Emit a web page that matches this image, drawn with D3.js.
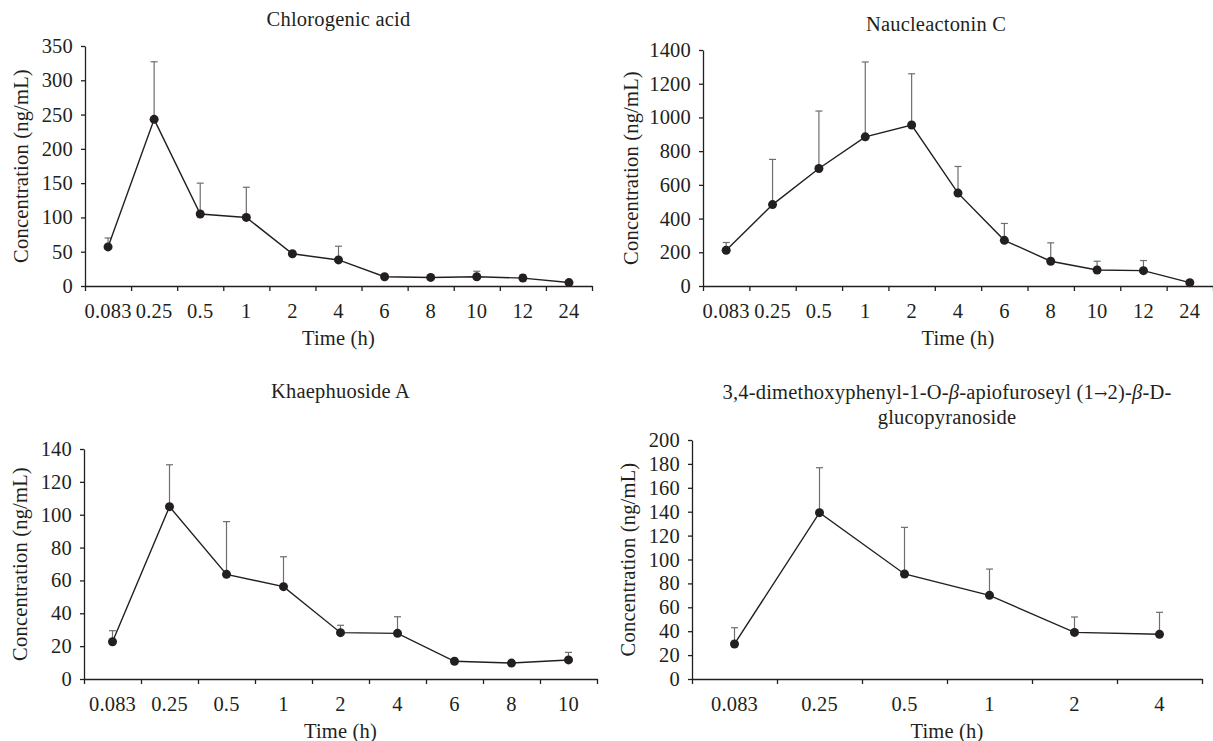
<!DOCTYPE html>
<meta charset="utf-8">
<head>
  <meta charset="utf-8">
  <title>Plasma concentration-time profiles</title>
</head>
<style>
body { margin: 0; background: #fff; }
svg text { font-family: 'Liberation Serif', 'Times New Roman', serif; fill: #231f20; letter-spacing: 0.2px; }
.axis path, .axis line { stroke: #231f20; stroke-width: 1.3; }
.axis text { font-size: 20.5px; }
.title { font-size: 20.5px; }
.label { font-size: 20.5px; }
.arrow { font-family: 'DejaVu Serif', serif; font-size: 16px; }
</style>
<body>
<div class='chart'></div>

<script src="https://d3js.org/d3.v7.min.js"></script>
<script>

// Time points (h)
var times11 = ["0.083", "0.25", "0.5", "1", "2", "4", "6", "8", "10", "12", "24"]
var times9 = ["0.083", "0.25", "0.5", "1", "2", "4", "6", "8", "10"]
var times6 = ["0.083", "0.25", "0.5", "1", "2", "4"]

// Mean and SD concentrations (ng/mL)
var chlorogenicMean = [57, 243, 105, 100, 47, 38, 13.5, 12.5, 13.5, 11.5, 5]
var chlorogenicSD = [13, 84, 45, 44, 3, 20, 2, 2, 8, 5, 1]

var naucleactoninMean = [212, 483, 697, 885, 955, 551, 271, 147, 95, 91, 20]
var naucleactoninSD = [46, 268, 341, 444, 304, 158, 100, 109, 52, 60, 5]

var khaephuosideMean = [22.7, 104.9, 63.7, 56.2, 28.2, 27.8, 10.8, 9.7, 11.6]
var khaephuosideSD = [6.7, 25.5, 32.1, 18.2, 4.5, 10.1, 1, 1, 4.6]

var dmpMean = [29.3, 139.2, 87.9, 70, 39, 37.4]
var dmpSD = [13.6, 37.6, 39, 22, 12.9, 18.4]

var width = 1213
var height = 741

var svg = d3.select('.chart')
    .append('svg')
    .attr('width', width)
    .attr('height', height)

// one panel per compound; box = plot area in page pixels
var panels = [
  {title: ['Chlorogenic acid'], titleY: 26, times: times11, mean: chlorogenicMean, sd: chlorogenicSD,
   yMax: 350, yStep: 50, labelGap: 57, box: {left: 85, right: 592, top: 46, bottom: 286}},
  {title: ['Naucleactonin C'], titleY: 31, titleX: 936, times: times11, mean: naucleactoninMean, sd: naucleactoninSD,
   yMax: 1400, yStep: 200, labelGap: 65, box: {left: 703, right: 1213, top: 50, bottom: 286}},
  {title: ['Khaephuoside A'], titleY: 398, times: times9, mean: khaephuosideMean, sd: khaephuosideSD,
   yMax: 140, yStep: 20, labelGap: 57, box: {left: 84, right: 597, top: 449, bottom: 679}},
  {title: ['3,4-dimethoxyphenyl-1-O-|β|-apiofuroseyl (1~→~2)-|β|-D-', 'glucopyranoside'], titleY: 399,
   times: times6, mean: dmpMean, sd: dmpSD,
   yMax: 200, yStep: 20, labelGap: 57, box: {left: 692, right: 1202, top: 440, bottom: 679}}
]

panels.forEach(drawPanel)

function drawPanel(p) {
    var b = p.box
    var g = svg.append('g')

    var x = d3.scaleBand().domain(p.times).range([b.left, b.right]).padding(0)
    var y = d3.scaleLinear().domain([0, p.yMax]).range([b.bottom, b.top])

    // y axis
    g.append('g')
        .attr('class', 'axis')
        .attr('transform', 'translate(' + b.left + ',0)')
        .call(d3.axisLeft(y).tickValues(d3.range(0, p.yMax + 1, p.yStep)).tickFormat(d3.format('d'))
            .tickSize(4).tickPadding(8).tickSizeOuter(0))

    // x axis: ticks on category boundaries, labels at band centres
    var edge = d3.scaleLinear().domain([0, p.times.length]).range([b.left, b.right])
    g.append('g')
        .attr('class', 'axis')
        .attr('transform', 'translate(0,' + b.bottom + ')')
        .call(d3.axisBottom(edge).tickValues(d3.range(0, p.times.length + 1)).tickSize(5).tickFormat('').tickSizeOuter(0))
    g.append('g')
        .attr('class', 'axis')
        .attr('transform', 'translate(0,' + b.bottom + ')')
        .call(d3.axisBottom(x).tickSize(0).tickPadding(17))
        .call(function (s) { s.select('.domain').remove() })

    var cx = function (d, i) { return x(p.times[i]) + x.bandwidth() / 2 }

    // error bars (upper SD only)
    var eb = g.append('g').attr('stroke', '#6d6e71').attr('stroke-width', 1.2)
    p.mean.forEach(function (m, i) {
        var xx = cx(m, i)
        var top = y(m + p.sd[i])
        eb.append('line').attr('x1', xx).attr('x2', xx).attr('y1', y(m)).attr('y2', top)
        eb.append('line').attr('x1', xx - 3.5).attr('x2', xx + 3.5).attr('y1', top).attr('y2', top)
    })

    // mean line
    var line = d3.line().x(cx).y(function (d) { return y(d) })
    g.append('path')
        .datum(p.mean)
        .attr('d', line)
        .attr('fill', 'none')
        .attr('stroke', '#231f20')
        .attr('stroke-width', 1.4)

    g.selectAll('.dot')
        .data(p.mean)
        .enter().append('circle')
        .attr('class', 'dot')
        .attr('cx', cx)
        .attr('cy', function (d) { return y(d) })
        .attr('r', 4.5)
        .attr('fill', '#231f20')

    // labels
    var midX = (b.left + b.right) / 2
    g.append('text')
        .attr('class', 'label')
        .attr('x', midX)
        .attr('y', b.bottom + 59)
        .attr('text-anchor', 'middle')
        .text('Time (h)')

    g.append('text')
        .attr('class', 'label')
        .attr('transform', 'translate(' + (b.left - p.labelGap) + ',' + ((b.top + b.bottom) / 2) + ') rotate(-90)')
        .attr('text-anchor', 'middle')
        .text('Concentration (ng/mL)')

    // title: '|' marks italic pieces, '~' marks the arrow
    var tx = p.titleX || midX
    p.title.forEach(function (ln, k) {
        var t = g.append('text')
            .attr('class', 'title')
            .attr('x', tx)
            .attr('y', p.titleY + k * 25)
            .attr('text-anchor', 'middle')
        ln.split('|').forEach(function (piece, j) {
            piece.split('~').forEach(function (bit) {
                var s = t.append('tspan').style('font-style', j % 2 ? 'italic' : 'normal').text(bit)
                if (bit === '→') s.attr('class', 'arrow')
            })
        })
    })
}

</script>
</body>
